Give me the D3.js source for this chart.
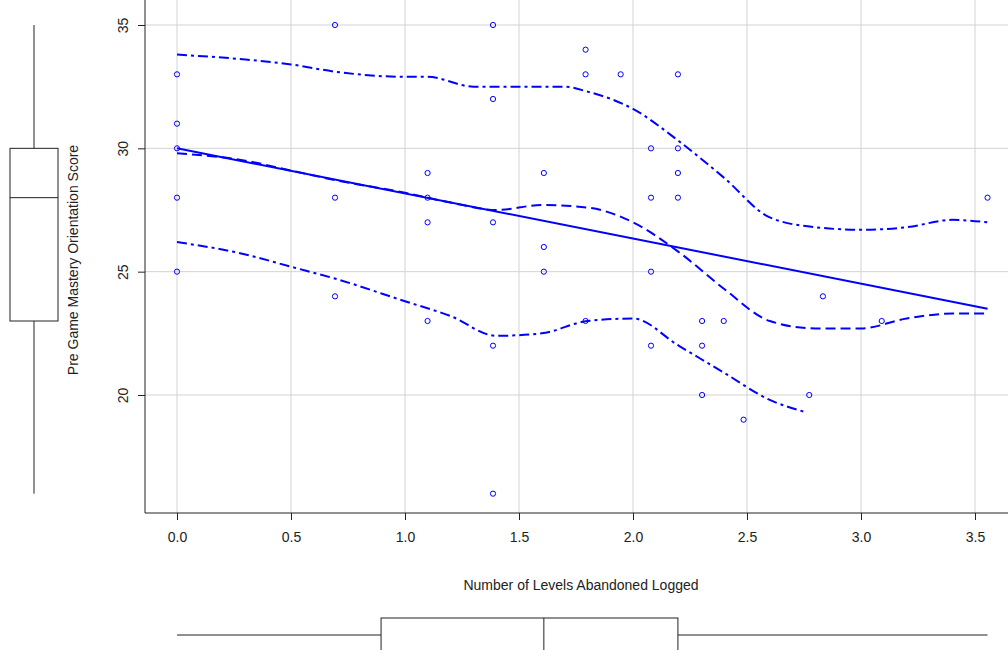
<!DOCTYPE html>
<html><head><meta charset="utf-8">
<script src="https://cdn.jsdelivr.net/npm/d3@7"></script>
<style>body{margin:0;background:#fff}text{font-family:"Liberation Sans",Arial,sans-serif;fill:#222}</style>
</head><body><svg id="c" width="1008" height="650"></svg>
<script>
var xs = [0,0,0,0,0, 0.693,0.693,0.693, 1.099,1.099,1.099,1.099, 1.386,1.386,1.386,1.386,1.386,
  1.609,1.609,1.609, 1.792,1.792,1.792, 1.946, 2.079,2.079,2.079,2.079, 2.197,2.197,2.197,2.197,
  2.303,2.303,2.303, 2.398, 2.485, 2.773, 2.833, 3.091, 3.555];
var ys = [33,31,30,28,25, 35,28,24, 29,28,27,23, 35,32,27,22,16,
  29,26,25, 34,33,23, 33, 30,28,25,22, 33,30,29,28,
  23,22,20, 23, 19, 20, 24, 23, 28];
var xTicks = [0,0.5,1,1.5,2,2.5,3,3.5];
var yTicks = [20,25,30,35];
var fitX = [0, 3.555], fitY = [30, 23.5];
var midX = [0,0.3,0.5,0.7,1.0,1.2,1.4,1.6,1.8,2.0,2.2,2.4,2.6,2.8,3.0,3.2,3.4,3.555];
var midY = [29.8,29.5,29.1,28.7,28.2,27.8,27.5,27.7,27.6,27.0,25.8,24.3,23.0,22.7,22.7,23.1,23.3,23.3];
var upX = [0,0.3,0.5,0.7,1.0,1.1,1.3,1.5,1.7,1.8,2.0,2.2,2.4,2.6,2.8,3.0,3.2,3.4,3.555];
var upY = [33.8,33.6,33.4,33.1,32.9,32.9,32.5,32.5,32.5,32.3,31.6,30.3,28.8,27.2,26.8,26.7,26.8,27.1,27.0];
var loX = [0,0.3,0.5,0.7,1.0,1.2,1.4,1.6,1.8,2.0,2.2,2.4,2.6,2.76];
var loY = [26.2,25.7,25.2,24.7,23.8,23.2,22.4,22.5,23.0,23.1,22.0,20.9,19.8,19.3];

var svg = d3.select('#c');
var x = d3.scaleLinear().domain([0,3.5]).range([177,975]);
var y = d3.scaleLinear().domain([20,35]).range([395,25]);
var blue = '#0000ff';

// grid
svg.selectAll('line.gx').data(xTicks).join('line')
  .attr('x1', d => x(d)).attr('x2', d => x(d)).attr('y1', 0).attr('y2', 513)
  .attr('stroke', '#d3d3d3');
svg.selectAll('line.gy').data(yTicks).join('line')
  .attr('x1', 145).attr('x2', 1008).attr('y1', d => y(d)).attr('y2', d => y(d))
  .attr('stroke', '#d3d3d3');

// axes
var xa = svg.append('g').attr('transform', 'translate(0,513)')
  .call(d3.axisBottom(x).tickValues(xTicks).tickFormat(d3.format('.1f')).tickSizeOuter(0).tickSize(7).tickPadding(12));
xa.select('.domain').attr('d', 'M145,0H1008');
var ya = svg.append('g').attr('transform', 'translate(145,0)')
  .call(d3.axisLeft(y).tickValues(yTicks).tickSizeOuter(0).tickSize(7).tickPadding(8));
ya.select('.domain').attr('d', 'M0,0V513');
ya.selectAll('.tick text').attr('transform', 'rotate(-90,-22,0)')
  .attr('text-anchor', 'middle').attr('x', -22).attr('dy', '0.35em');
svg.selectAll('.tick text').style('font-size', '14px').style('fill', '#222');
svg.selectAll('.domain, .tick line').attr('stroke', '#222');

svg.append('text').attr('x', 581).attr('y', 590).attr('text-anchor', 'middle')
  .style('font-size', '14px').text('Number of Levels Abandoned Logged');
svg.append('text').attr('transform', 'translate(78,260) rotate(-90)').attr('text-anchor', 'middle')
  .style('font-size', '14px').text('Pre Game Mastery Orientation Score');

// lines
var line = d3.line().curve(d3.curveMonotoneX);
function drawLine(ax, ay, dash) {
  svg.append('path').datum(ax.map((v, i) => [x(v), y(ay[i])]))
    .attr('d', line).attr('fill', 'none').attr('stroke', blue).attr('stroke-width', 2)
    .attr('stroke-dasharray', dash);
}
drawLine(fitX, fitY, null);
drawLine(midX, midY, '10,5');
drawLine(upX, upY, '10,4,3,4');
drawLine(loX, loY, '10,4,3,4');

svg.selectAll('circle.p').data(xs).join('circle')
  .attr('cx', d => x(d)).attr('cy', (d, i) => y(ys[i])).attr('r', 2.6)
  .attr('fill', 'none').attr('stroke', blue).attr('stroke-width', 1);

// boxplots
function q(a, p) { return d3.quantile(a.slice().sort(d3.ascending), p); }
var yb = {min: d3.min(ys), q1: 23, med: q(ys, 0.5), q3: 30, max: d3.max(ys)};
var g1 = svg.append('g').attr('stroke', '#222').attr('fill', 'none');
g1.append('line').attr('x1', 34).attr('x2', 34).attr('y1', y(yb.min)).attr('y2', y(yb.q1));
g1.append('line').attr('x1', 34).attr('x2', 34).attr('y1', y(yb.q3)).attr('y2', y(yb.max));
g1.append('rect').attr('x', 10).attr('width', 48).attr('y', y(yb.q3)).attr('height', y(yb.q1) - y(yb.q3));
g1.append('line').attr('x1', 10).attr('x2', 58).attr('y1', y(yb.med)).attr('y2', y(yb.med));

var xb = {min: d3.min(xs), q1: 0.895, med: 1.609, q3: 2.197, max: d3.max(xs)};
var g2 = svg.append('g').attr('stroke', '#222').attr('fill', 'none');
g2.append('line').attr('y1', 635).attr('y2', 635).attr('x1', x(xb.min)).attr('x2', x(xb.q1));
g2.append('line').attr('y1', 635).attr('y2', 635).attr('x1', x(xb.q3)).attr('x2', x(xb.max));
g2.append('rect').attr('y', 618).attr('height', 60).attr('x', x(xb.q1)).attr('width', x(xb.q3) - x(xb.q1));
g2.append('line').attr('y1', 618).attr('y2', 678).attr('x1', x(xb.med)).attr('x2', x(xb.med));
</script></body></html>
